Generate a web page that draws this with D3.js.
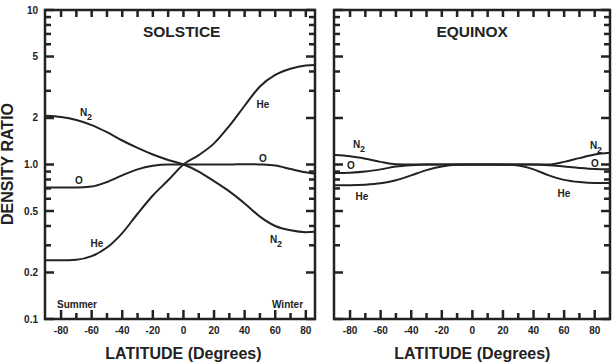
<!DOCTYPE html>
<html>
<head>
<meta charset="utf-8">
<script src="https://cdn.jsdelivr.net/npm/d3@7"></script>
<style>
  body { margin: 0; background: #fff; }
  svg text { font-family: "Liberation Sans", Arial, sans-serif; font-weight: bold; fill: #222; }
</style>
</head>
<body>
<svg id="chart" width="616" height="364"></svg>
<script>
// latitude grid (degrees)
var lat = [-90,-80,-70,-60,-50,-40,-30,-20,-10,0,10,20,30,40,50,60,70,80,90];

// solstice density ratios
var solHe = [0.24,0.24,0.242,0.255,0.29,0.36,0.48,0.63,0.79,1.0,1.15,1.37,1.78,2.4,3.2,3.8,4.17,4.37,4.42];
var solN2 = [2.07,2.03,1.94,1.8,1.62,1.43,1.28,1.16,1.07,1.0,0.9,0.78,0.67,0.56,0.46,0.4,0.375,0.365,0.37];
var solO  = [0.71,0.71,0.71,0.72,0.77,0.85,0.93,0.98,1.0,1.0,1.0,1.0,1.0,1.005,1.0,0.985,0.935,0.89,0.86];

// equinox density ratios
var eqHe = [0.735,0.735,0.74,0.755,0.79,0.85,0.92,0.97,0.995,1.0,1.0,0.998,0.985,0.93,0.85,0.795,0.77,0.76,0.76];
var eqN2 = [1.15,1.13,1.09,1.04,1.005,1.0,1.0,1.0,1.0,1.0,1.0,1.0,1.0,1.0,1.0,1.04,1.1,1.16,1.19];
var eqO  = [0.88,0.885,0.9,0.93,0.97,0.99,1.0,1.0,1.0,1.0,1.0,1.0,1.0,1.0,0.99,0.97,0.95,0.935,0.93];

var yTickLabels = [0.1, 0.2, 0.5, 1, 2, 5, 10];
var yMinorTicks = [0.3,0.4,0.6,0.7,0.8,0.9,3,4,6,7,8,9];
var xTickLabels = [-80,-60,-40,-20,0,20,40,60,80];
var xMinorTicks = [-70,-50,-30,-10,10,30,50,70];

var svg = d3.select('#chart');
var ink = '#222';

var y = d3.scaleLog().domain([0.1, 10]).range([319, 10]);

var panels = [
  { id: 'sol', title: 'SOLSTICE', left: 45, right: 315, dom: [-90.5, 86],
    series: [solHe, solN2, solO], yLabels: true,
    labels: [
      {t: 'N', sub: '2', x: 86, y: 116},
      {t: 'He', x: 263, y: 108},
      {t: 'O', x: 263, y: 162},
      {t: 'O', x: 79, y: 184},
      {t: 'He', x: 97, y: 247},
      {t: 'N', sub: '2', x: 276, y: 243}
    ],
    notes: [ {t: 'Summer', x: 57, y: 308}, {t: 'Winter', x: 272, y: 308} ] },
  { id: 'eq', title: 'EQUINOX', left: 334, right: 610, dom: [-90.5, 90],
    series: [eqHe, eqN2, eqO], yLabels: false,
    labels: [
      {t: 'N', sub: '2', x: 359, y: 148},
      {t: 'O', x: 351, y: 169},
      {t: 'He', x: 362, y: 200},
      {t: 'N', sub: '2', x: 596, y: 149},
      {t: 'O', x: 595, y: 167},
      {t: 'He', x: 564, y: 197}
    ],
    notes: [] }
];

var tickLayer = svg.append('g').attr('class', 'ticks');

panels.forEach(function (p) {
  var x = d3.scaleLinear().domain(p.dom).range([p.left, p.right]);
  var g = svg.append('g');
  var yTop = y(10), yBot = y(0.1);

  g.append('clipPath').attr('id', 'clip-' + p.id)
    .append('rect')
      .attr('x', p.left).attr('y', yTop)
      .attr('width', p.right - p.left).attr('height', yBot - yTop);

  // x tick labels
  g.append('g').selectAll('text').data(xTickLabels).enter().append('text')
    .attr('x', function (d) { return x(d); })
    .attr('y', 334)
    .attr('text-anchor', 'middle')
    .style('font-size', '10px')
    .text(function (d) { return d; });

  if (p.yLabels) {
    g.append('g').selectAll('text').data(yTickLabels).enter().append('text')
      .attr('x', 38)
      .attr('y', function (d) { return y(d) + 3.5; })
      .attr('text-anchor', 'end')
      .style('font-size', '10px')
      .text(function (d) { return d === 1 ? '1.0' : d; });
  }

  // curves
  var line = d3.line()
    .x(function (d, i) { return x(lat[i]); })
    .y(function (d) { return y(d); })
    .curve(d3.curveMonotoneX);
  g.append('g').attr('clip-path', 'url(#clip-' + p.id + ')')
    .selectAll('path').data(p.series).enter().append('path')
      .attr('d', line)
      .attr('fill', 'none')
      .attr('stroke', ink)
      .attr('stroke-width', 2);

  // frame
  g.append('rect')
    .attr('x', p.left).attr('y', yTop)
    .attr('width', p.right - p.left).attr('height', yBot - yTop)
    .attr('fill', 'none').attr('stroke', ink).attr('stroke-width', 2.5);

  // inward ticks on all four sides, collected as segments
  var segs = [];
  xTickLabels.forEach(function (d) { segs.push([x(d), yBot, x(d), yBot - 9]); });
  xMinorTicks.forEach(function (d) { segs.push([x(d), yBot, x(d), yBot - 6]); });
  xTickLabels.concat(xMinorTicks).forEach(function (d) { segs.push([x(d), yTop, x(d), yTop + 7]); });
  yTickLabels.forEach(function (d) {
    segs.push([p.left, y(d), p.left + 9, y(d)]);
    segs.push([p.right, y(d), p.right - 9, y(d)]);
  });
  yMinorTicks.forEach(function (d) {
    segs.push([p.left, y(d), p.left + 6, y(d)]);
    segs.push([p.right, y(d), p.right - 6, y(d)]);
  });
  tickLayer.selectAll(null).data(segs).enter().append('polyline')
    .attr('points', function (s) { return s[0] + ',' + s[1] + ' ' + s[2] + ',' + s[3]; })
    .attr('fill', 'none')
    .style('stroke', ink)
    .style('stroke-width', '2.5px');

  // curve labels
  p.labels.forEach(function (l) {
    var t = g.append('text').attr('x', l.x).attr('y', l.y)
      .attr('text-anchor', 'middle')
      .style('font-size', '10px').text(l.t);
    if (l.sub) t.append('tspan').attr('dy', 4).style('font-size', '9px').text(l.sub);
  });
  p.notes.forEach(function (l) {
    g.append('text').attr('x', l.x).attr('y', l.y)
      .style('font-size', '10px').text(l.t);
  });

  // titles
  g.append('text')
    .attr('x', (x(0) + (p.left + p.right) / 2) / 2)
    .attr('y', 37)
    .attr('text-anchor', 'middle')
    .style('font-size', '15.5px')
    .text(p.title);

  g.append('text')
    .attr('x', x(0))
    .attr('y', 359)
    .attr('text-anchor', 'middle')
    .style('font-size', '16px')
    .text('LATITUDE (Degrees)');
});

svg.append('text')
  .attr('transform', 'translate(12.5,164) rotate(-90)')
  .attr('text-anchor', 'middle')
  .style('font-size', '16px')
  .text('DENSITY RATIO');
</script>
</body>
</html>
